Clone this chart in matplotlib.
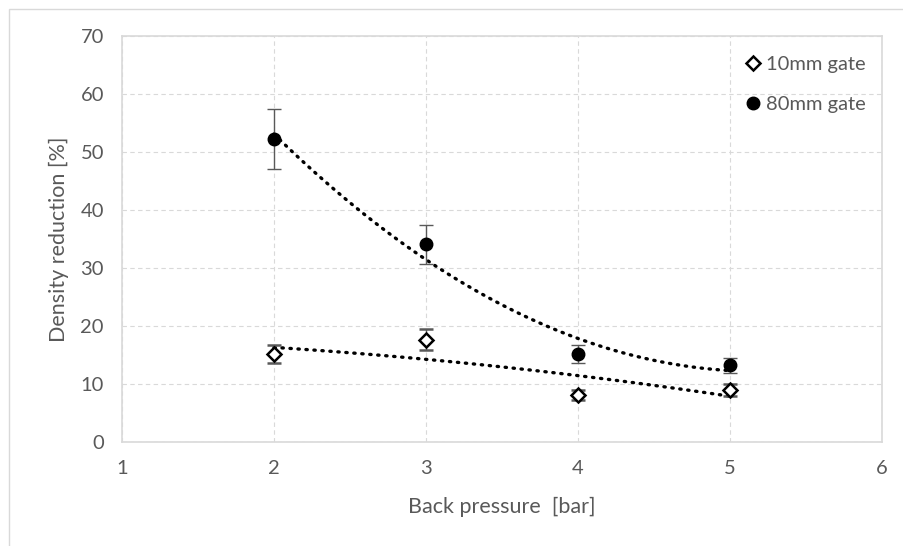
import numpy as np
import matplotlib.pyplot as plt

plt.rcParams['font.family'] = ['Lato', 'DejaVu Sans']

# Data
pressure = [2, 3, 4, 5]
gate10 = [15.2, 17.6, 8.1, 9.0]
gate10_err = [1.5, 1.8, 0.8, 1.0]
gate80 = [52.2, 34.1, 15.2, 13.2]
gate80_err = [5.2, 3.4, 1.5, 1.3]

grey = '#595959'

fig = plt.figure(figsize=(9.04, 5.46), dpi=100)
# outer chart border
fig.patches.append(plt.Rectangle((9 / 904, -0.05), 1.1, 1 - 9 / 546 + 0.05,
                                 transform=fig.transFigure, fill=False,
                                 edgecolor='#d9d9d9', lw=1))
ax = fig.add_axes([122 / 904, 1 - 442 / 546, 760 / 904, 406 / 546])

# quadratic trendlines (Excel-style polynomial, order 2)
xs = np.linspace(2, 5, 100)
for ys in (gate10, gate80):
    c = np.polyfit(pressure, ys, 2)
    ax.plot(xs, np.polyval(c, xs), color='black', lw=2.4,
            linestyle=(0, (0.4, 2.0)), dash_capstyle='round', zorder=2)

ax.errorbar(pressure, gate10, yerr=gate10_err, fmt='D', ms=7,
            mfc='white', mec='black', mew=1.8, ecolor=grey, elinewidth=1,
            capsize=5, capthick=1, label='10mm gate', zorder=3)
ax.errorbar(pressure, gate80, yerr=gate80_err, fmt='o', ms=9,
            mfc='black', mec='black', ecolor=grey, elinewidth=1,
            capsize=5, capthick=1, label='80mm gate', zorder=3)

ax.set_xlim(1, 6)
ax.set_ylim(0, 70)
ax.set_xticks(range(1, 7))
ax.set_yticks(range(0, 71, 10))
ax.grid(True, color='#d9d9d9', linestyle=(0, (4, 3)), lw=0.8)
ax.set_axisbelow(True)
for s in ax.spines.values():
    s.set_color('#d9d9d9')
    s.set_linewidth(1.2)
ax.tick_params(length=0, labelsize=14.5, labelcolor=grey, pad=13)

ax.set_xlabel('Back pressure  [bar]', fontsize=15.5, color=grey, labelpad=14)
ax.set_ylabel('Density reduction [%]', fontsize=15.5, color=grey, labelpad=8)

h, l = ax.get_legend_handles_labels()
h = [x[0] for x in h]
leg = fig.legend(h, l, loc='upper left', bbox_to_anchor=(734 / 904, 1 - 46 / 546),
                 frameon=False, fontsize=14.5, handlelength=0.9, handletextpad=0.2,
                 labelspacing=1.15, borderpad=0)
for t in leg.get_texts():
    t.set_color(grey)

fig.savefig('out.png', dpi=100)
